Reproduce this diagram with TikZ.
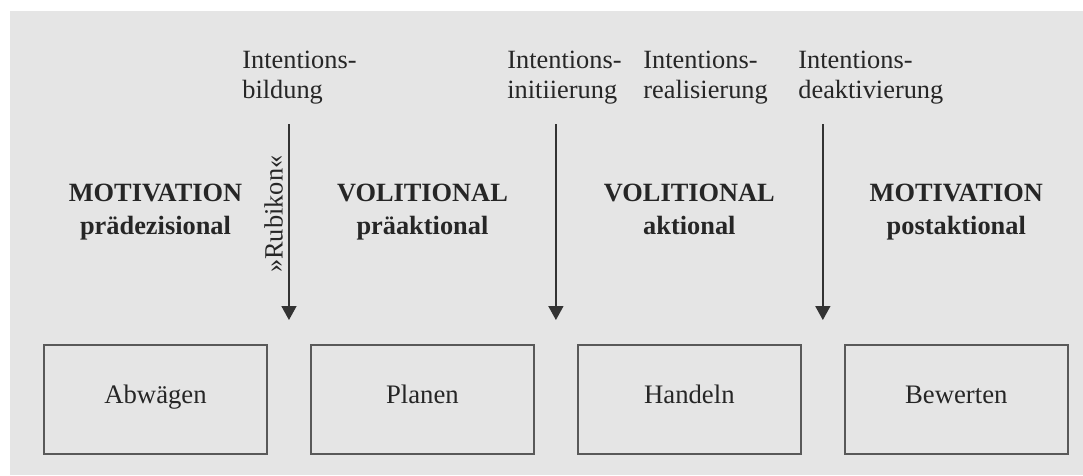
\documentclass[tikz,border=0pt]{standalone}
\usepackage{fontspec}
\setmainfont{Liberation Serif}
\usetikzlibrary{positioning,calc,arrows.meta}

\begin{document}
\begin{tikzpicture}[
    phase/.style = {rectangle, draw=black!65, line width=1.1pt, minimum width=4.46cm, minimum height=2.18cm, text height=0.7em, text depth=0.22em, text=black!85, font=\fontsize{15.2}{17.5}\selectfont},
    head/.style = {align=center, inner sep=0pt, text=black!85, font=\fontsize{15}{18.3}\selectfont\bfseries},
    lab/.style = {align=left, inner sep=0pt, anchor=base west, text=black!85, font=\fontsize{15}{17.5}\selectfont},
    arr/.style = {draw=black!80, line width=0.85pt, -{Triangle[length=0.28cm, width=0.3cm]}}
]
    % Background
    \useasboundingbox (0,0) rectangle (21.66,9.5);
    \fill[black!10] (0.2,0) rectangle (21.66,9.28);

    % Phases
    \node [phase] (abw) at (3.11,1.51) {Abwägen};
    \node [phase, right=0.84cm of abw] (pla) {Planen};
    \node [phase, right=0.84cm of pla] (han) {Handeln};
    \node [phase, right=0.84cm of han] (bew) {Bewerten};

    % Headers
    \node [head, above=2.2cm of abw.north, anchor=base] (mot1) {MOTIVATION\\prädezisional};
    \node [head, above=2.2cm of pla.north, anchor=base] (vol1) {VOLITIONAL\\präaktional};
    \node [head, above=2.2cm of han.north, anchor=base] (vol2) {VOLITIONAL\\aktional};
    \node [head, above=2.2cm of bew.north, anchor=base] (mot2) {MOTIVATION\\postaktional};

    % Transitions
    \node [lab] (bil) at (4.84,7.52) {Intentions-\\bildung};
    \node [lab] (ini) at (10.14,7.52) {Intentions-\\initiierung};
    \node [lab] (rea) at (12.86,7.52) {Intentions-\\realisierung};
    \node [lab] (dea) at (15.96,7.52) {Intentions-\\deaktivierung};

    \path ($(abw.north east)!0.5!(pla.north west)$) ++(0,0.48) coordinate (e1) ++(0,3.92) coordinate (s1);
    \path ($(pla.north east)!0.5!(han.north west)$) ++(0,0.48) coordinate (e2) ++(0,3.92) coordinate (s2);
    \path ($(han.north east)!0.5!(bew.north west)$) ++(0,0.48) coordinate (e3) ++(0,3.92) coordinate (s3);

    % Arrows
    \draw [arr] (s1) -- node[pos=0.46, rotate=90, anchor=south, inner sep=3pt, text=black!85, font=\fontsize{15}{17.5}\selectfont] {»Rubikon«} (e1);
    \draw [arr] (s2) -- (e2);
    \draw [arr] (s3) -- (e3);

\end{tikzpicture}
\end{document}
